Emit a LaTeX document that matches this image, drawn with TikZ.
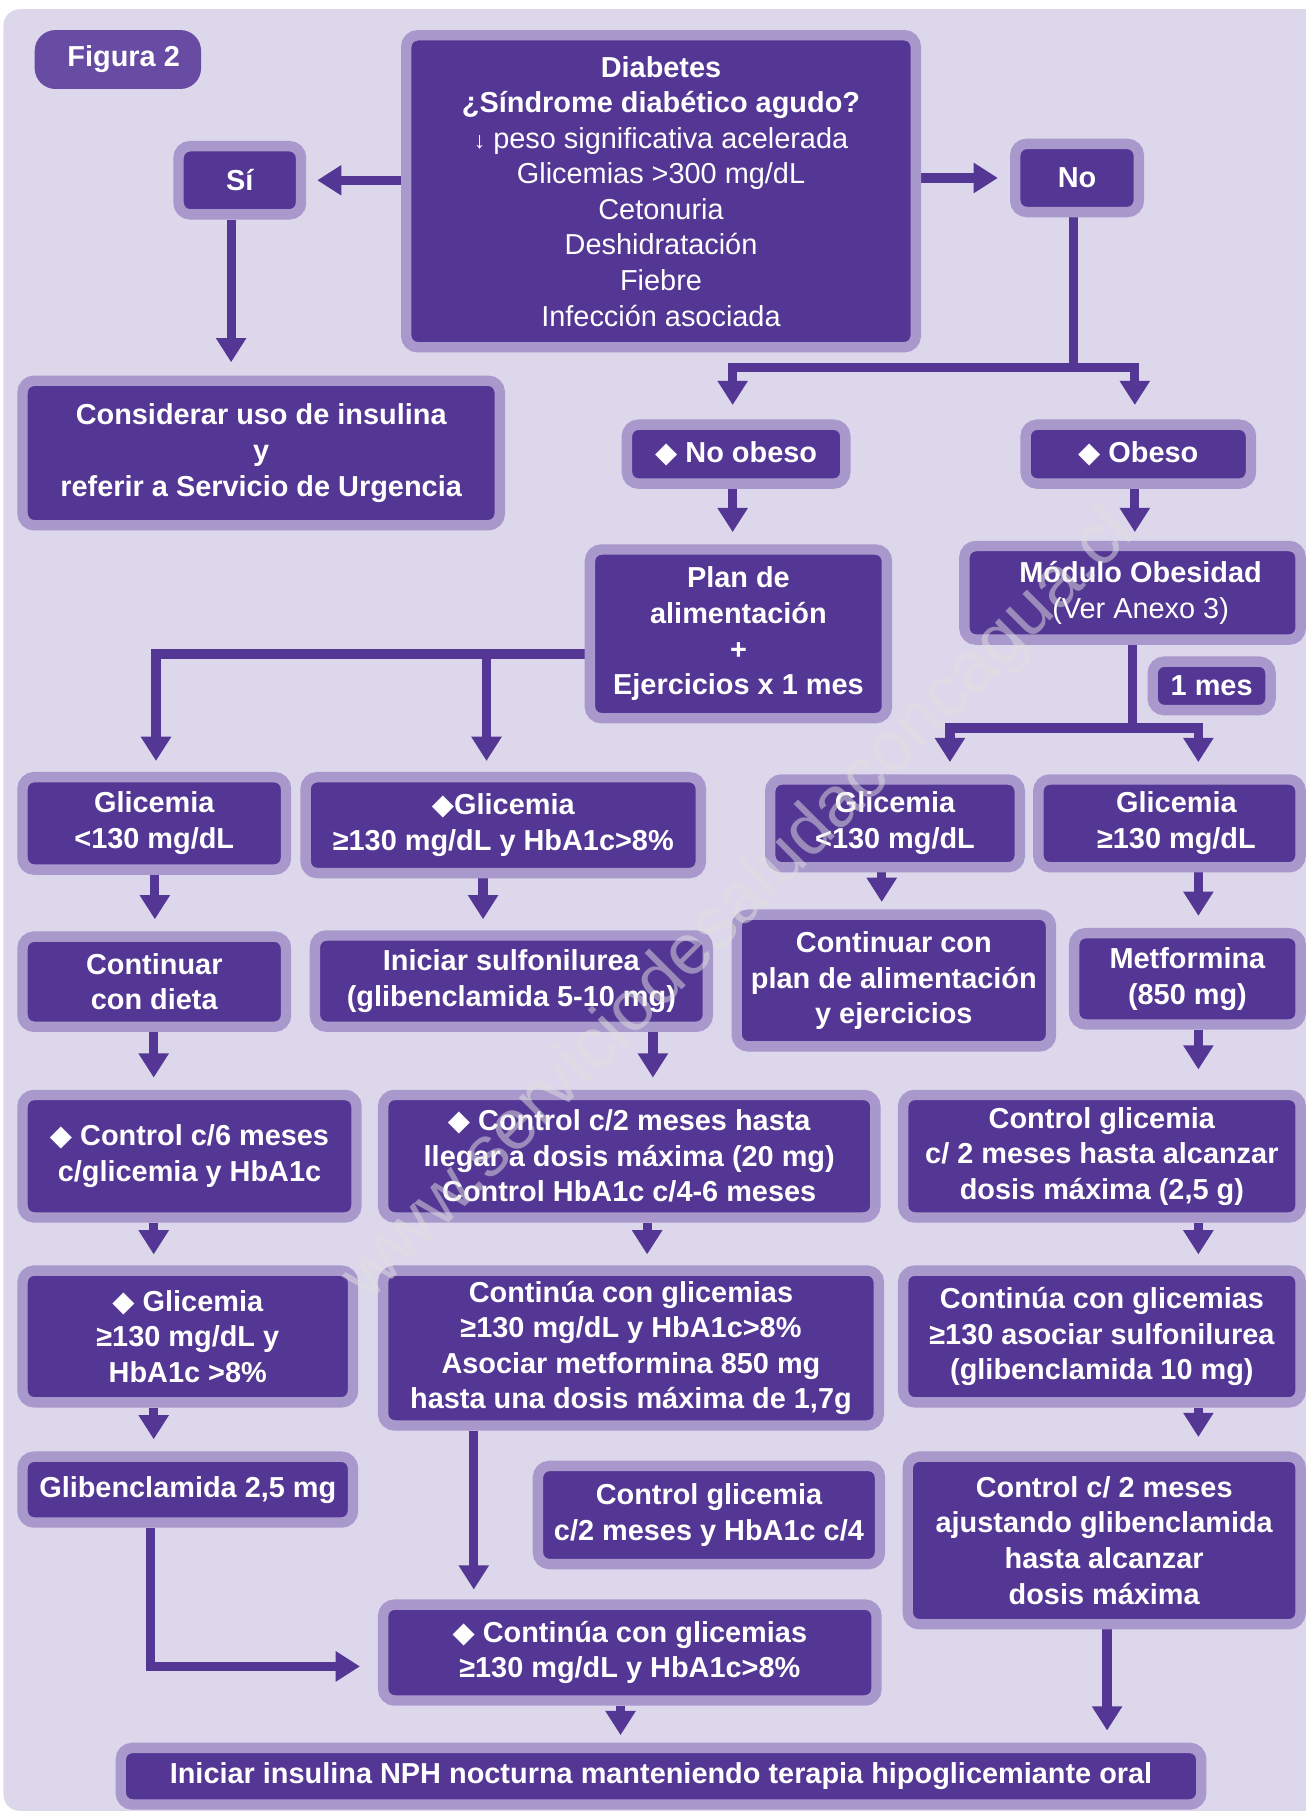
\documentclass[tikz,border=0pt]{standalone}
\usepackage{fontspec}
\setmainfont{Liberation Sans}
\newfontfamily\dvfont{DejaVu Sans}
\usetikzlibrary{arrows.meta,backgrounds}
\definecolor{dark}{HTML}{543794}
\definecolor{bord}{HTML}{A898CC}
\definecolor{bgc}{HTML}{DCD7EB}
\definecolor{figc}{HTML}{684CA4}
\newcommand\dmd{{\dvfont\fontsize{25pt}{25pt}\selectfont\char"25C6}}
\newcommand\bxn[6]{\node[bx,minimum width=#4pt,minimum height=#5pt] (#1) at (#2,#3) {#6};}
\newcommand\va[4]{\draw[arr,shorten >=#4pt] (#1.south -| #3,0) -- (#2.north -| #3,0);}
\tikzset{
  bx/.style={draw=bord,line width=9pt,fill=dark,rounded corners=10pt,text=white,
    font=\fontsize{25pt}{30.8pt}\selectfont\bfseries,align=center,inner sep=0pt},
  arr/.style={draw=dark,line width=8pt,-{Triangle[width=25pt,length=21pt]}},
  ln/.style={draw=dark,line width=8pt},
}
\begin{document}
\begin{tikzpicture}[x=1pt,y=-1pt]
\useasboundingbox (0,0) rectangle (1130,1568);
% title
\node[fill=figc,rounded corners=18pt,minimum width=144pt,minimum height=51pt,inner sep=0pt,
  text=white,font=\fontsize{25pt}{30pt}\selectfont\bfseries] (fig) at (102,51.5) {\hspace*{10pt}Figura 2};
% boxes
\bxn{diab}{572}{165.5}{441}{270}{Diabetes\\¿Síndrome diabético agudo?\\{\mdseries{\fontsize{20pt}{20pt}\selectfont ↓} peso significativa acelerada}\\{\mdseries Glicemias >300 mg/dL}\\{\mdseries Cetonuria}\\{\mdseries Deshidratación}\\{\mdseries Fiebre}\\{\mdseries Infección asociada}}
\bxn{si}{207.5}{156}{106}{59}{Sí}
\bxn{no}{932}{154}{107}{59}{No}
\bxn{cons}{226}{392}{413}{125}{Considerar uso de insulina\\y\\referir a Servicio de Urgencia}
\bxn{noob}{637}{393}{189}{51}{\dmd\ No obeso}
\bxn{ob}{985}{393}{195}{51}{\dmd\ Obeso}
\bxn{plan}{639}{548.5}{257}{146}{Plan de\\alimentación\\+\\Ejercicios x 1 mes}
\bxn{mod}{980}{513}{291}{81}{\hspace*{14pt}Módulo Obesidad\\\hspace*{14pt}{\mdseries (Ver Anexo 3)}}
\bxn{mes}{1048.5}{593.5}{102}{42}{1 mes}
\bxn{g1}{133.5}{712.5}{228}{80}{Glicemia\\<130 mg/dL}
\bxn{g2}{435.5}{714}{342}{83}{\dmd Glicemia\\≥130 mg/dL y HbA1c>8\%}
\bxn{g3}{774.5}{712.5}{216}{76}{Glicemia\\<130 mg/dL}
\bxn{g4}{1012}{712.5}{227}{76}{\hspace*{12pt}Glicemia\\\hspace*{12pt}≥130 mg/dL}
\bxn{c1}{133.5}{849.5}{228}{78}{Continuar\\con dieta}
\bxn{c2}{442.5}{849}{340}{79}{Iniciar sulfonilurea\\(glibenclamida 5-10 mg)}
\bxn{c3}{773.5}{848.5}{272}{114}{Continuar con\\plan de alimentación\\y ejercicios}
\bxn{c4}{1027.5}{847}{196}{79}{Metformina\\(850 mg)}
\bxn{d1}{164}{1000.5}{289}{106}{\dmd\ Control c/6 meses\\c/glicemia y HbA1c}
\bxn{d2}{544.5}{1000.5}{426}{106}{\dmd\ Control c/2 meses hasta\\llegar a dosis máxima (20 mg)\\Control HbA1c c/4-6 meses}
\bxn{d3}{953.5}{1000.5}{344}{106}{Control glicemia\\c/ 2 meses hasta alcanzar\\dosis máxima (2,5 g)}
\bxn{e1}{162.5}{1156.5}{286}{114}{\dmd\ Glicemia\\≥130 mg/dL y\\HbA1c >8\%}
\bxn{e2}{546}{1166.5}{429}{134}{Continúa con glicemias\\≥130 mg/dL y HbA1c>8\%\\Asociar metformina 850 mg\\hasta una dosis máxima de 1,7g}
\bxn{e3}{953.5}{1156.5}{344}{114}{Continúa con glicemias\\≥130 asociar sulfonilurea\\(glibenclamida 10 mg)}
\bxn{f1}{162.5}{1289}{286}{57}{Glibenclamida 2,5 mg}
\bxn{f2}{613.5}{1311}{296}{85}{Control glicemia\\c/2 meses y HbA1c c/4}
\bxn{f3}{955.5}{1333}{340}{145}{Control c/ 2 meses\\ajustando glibenclamida\\hasta alcanzar\\dosis máxima}
\bxn{h}{545}{1430}{427}{83}{\dmd\ Continúa con glicemias\\≥130 mg/dL y HbA1c>8\%}
\bxn{ins}{572}{1537}{935}{49}{Iniciar insulina NPH nocturna manteniendo terapia hipoglicemiante oral}
% connectors
\begin{pgfonlayer}{background}
\fill[bgc,rounded corners=14pt] (3,8) rectangle (1150,1567);
\draw[arr,shorten >=9.5pt] (diab.west |- si.east) -- (si.east);
\draw[arr,shorten >=10.5pt] (diab.east |- no.west) -- (no.west);
\draw[arr,shorten >=11.5pt] (si.south -| 200,0) -- (cons.north -| 200,0);
\coordinate (j1) at (929,318);
\draw[ln] (no.south -| j1) -- (j1);
\draw[arr,shorten >=12.5pt] (j1) -| (noob.north -| 634,0);
\draw[arr,shorten >=12.5pt] (j1) -| (ob.north -| 982,0);
\draw[arr,shorten >=10.5pt] (noob.south -| 634,0) -- (plan.north -| 634,0);
\draw[arr,shorten >=7.5pt] (ob.south -| 982,0) -- (mod.north -| 982,0);
\coordinate (j2) at (506,566);
\draw[arr,shorten >=9.5pt] (plan.west |- j2) -| (g1.north -| 135,0);
\draw[arr,shorten >=9.5pt] (plan.west |- j2) -| (g2.north -| 421,0);
\coordinate (j3) at (980,630);
\draw[ln] (mod.south -| j3) -- (j3);
\draw[arr,shorten >=10.5pt] (j3) -| (g3.north -| 822,0);
\draw[arr,shorten >=10.5pt] (j3) -| (g4.north -| 1037,0);
\va{g1}{c1}{134}{10.5}
\va{g2}{c2}{418}{9.5}
\va{g3}{c3}{763}{6.5}
\va{g4}{c4}{1037}{10.5}
\va{c1}{d1}{133}{10.5}
\va{c2}{d2}{565}{10.5}
\va{c4}{d3}{1037}{17.5}
\va{d1}{e1}{133}{9.5}
\va{d2}{e2}{560}{9.5}
\va{d3}{e3}{1037}{9.5}
\va{e1}{f1}{133}{10.5}
\va{e3}{f3}{1037}{12.5}
\va{e2}{h}{410}{8.5}
\va{h}{ins}{537}{6.5}
\va{f3}{ins}{958}{10.5}
\draw[arr,shorten >=15.5pt] (f1.south -| 130,0) |- (h.west |- 0,1442);
\end{pgfonlayer}
% watermark
\node[rotate=45,text=white!88!black,text opacity=0.5,inner sep=0pt,
  font=\fontsize{62pt}{62pt}\selectfont] (wm) at (640,784) {www.serviciodesaludaconcagua.cl};
\end{tikzpicture}
\end{document}
